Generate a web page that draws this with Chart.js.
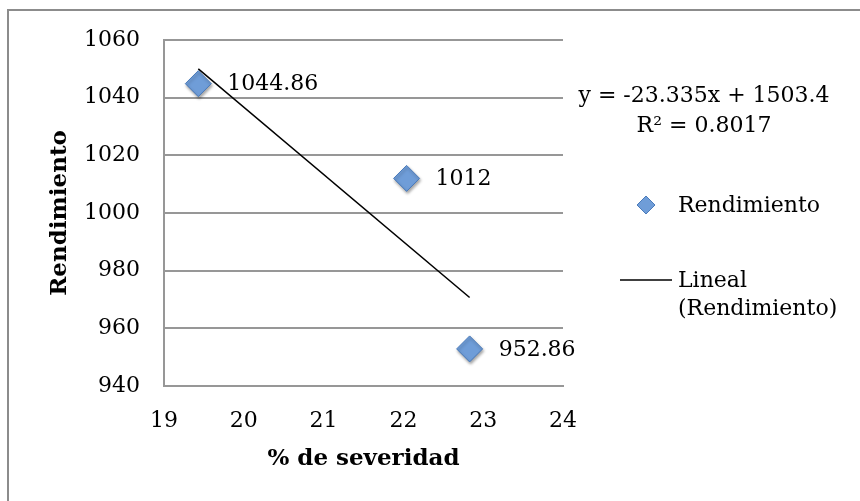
<!DOCTYPE html>
<html>
<head>
<meta charset="utf-8">
<script src="https://cdn.jsdelivr.net/npm/chart.js@4.4.1/dist/chart.umd.min.js"></script>
<style>
  html, body { margin: 0; padding: 0; background: #ffffff; }
  #wrap { position: relative; width: 860px; height: 501px; }
</style>
</head>
<body>
<div id="wrap"><canvas id="c" width="860" height="501"></canvas></div>
<script>
// ---- data ----
const severity = [19.43, 22.04, 22.83];          // % de severidad
const rendimiento = [1044.86, 1012, 952.86];     // Rendimiento
const trendX = [19.43, 22.83];                   // linear trend line ends
const trendY = [1050.0, 970.7];
const xTickRange = [19, 24, 1];
const yTickRange = [940, 1060, 20];
const seriesName = 'Rendimiento';
const trendName = ['Lineal', '(Rendimiento)'];
const equationLines = ['y = -23.335x + 1503.4', 'R² = 0.8017'];
const xTitle = '% de severidad';
const yTitle = 'Rendimiento';

const FONT = 'DejaVu Serif';
const FS = 22;
const GRID = '#979797';

const scatterPts = severity.map((x, i) => ({ x: x, y: rendimiento[i] }));
const trendPts = trendX.map((x, i) => ({ x: x, y: trendY[i] }));

const decorPlugin = {
  id: 'decor',
  beforeDraw(chart) {
    const ctx = chart.ctx;
    ctx.save();
    ctx.fillStyle = '#fff';
    ctx.fillRect(0, 0, chart.width, chart.height);
    ctx.strokeStyle = '#8c8c8c';
    ctx.lineWidth = 2;
    ctx.beginPath();
    ctx.moveTo(8, chart.height + 2);
    ctx.lineTo(8, 10);
    ctx.lineTo(chart.width + 2, 10);
    ctx.stroke();
    ctx.restore();
  },
  beforeDatasetDraw(chart, args) {
    if (args.index === 1) {
      const ctx = chart.ctx;
      ctx.save();
      ctx.shadowColor = 'rgba(0,0,0,0.35)';
      ctx.shadowBlur = 3;
      ctx.shadowOffsetX = 1;
      ctx.shadowOffsetY = 2;
    }
  },
  afterDatasetDraw(chart, args) {
    if (args.index === 1) chart.ctx.restore();
  },
  afterDraw(chart) {
    const ctx = chart.ctx;
    ctx.save();
    // data labels
    const meta = chart.getDatasetMeta(1);
    ctx.fillStyle = '#000';
    ctx.font = FS + 'px "' + FONT + '"';
    ctx.textAlign = 'left';
    ctx.textBaseline = 'middle';
    meta.data.forEach((el, i) => {
      ctx.fillText(String(rendimiento[i]), el.x + 29, el.y + 1);
    });
    // equation
    ctx.textAlign = 'center';
    ctx.fillText(equationLines[0], 704, 96);
    ctx.fillText(equationLines[1], 704, 126);
    // legend: diamond
    ctx.fillStyle = '#6f9dd8';
    ctx.strokeStyle = '#4a7bbb';
    ctx.lineWidth = 1;
    const dx = 646, dy = 205, r = 9;
    ctx.beginPath();
    ctx.moveTo(dx - r, dy);
    ctx.lineTo(dx, dy - r);
    ctx.lineTo(dx + r, dy);
    ctx.lineTo(dx, dy + r);
    ctx.closePath();
    ctx.fill();
    ctx.stroke();
    ctx.fillStyle = '#000';
    ctx.textAlign = 'left';
    ctx.fillText(seriesName, 678, 206);
    // legend: line
    ctx.strokeStyle = '#000';
    ctx.lineWidth = 1.5;
    ctx.beginPath();
    ctx.moveTo(620, 280);
    ctx.lineTo(672, 280);
    ctx.stroke();
    ctx.fillText(trendName[0], 678, 281);
    ctx.fillText(trendName[1], 678, 309);
    ctx.restore();
  }
};

new Chart(document.getElementById('c'), {
  type: 'scatter',
  data: {
    datasets: [
      {
        type: 'line',
        label: trendName.join(' '),
        data: trendPts,
        borderColor: '#000',
        borderWidth: 1.5,
        pointRadius: 0,
        fill: false,
        tension: 0
      },
      {
        label: seriesName,
        data: scatterPts,
        pointStyle: 'rectRot',
        pointRadius: 13,
        pointHoverRadius: 13,
        backgroundColor: '#6f9dd8',
        borderColor: '#4a7bbb',
        borderWidth: 1
      }
    ]
  },
  options: {
    responsive: false,
    animation: false,
    devicePixelRatio: 1,
    layout: { padding: { left: 0, top: 40, right: 297, bottom: 0 } },
    plugins: { legend: { display: false }, tooltip: { enabled: false } },
    scales: {
      x: {
        type: 'linear',
        min: xTickRange[0], max: xTickRange[1],
        afterFit(s) { s.height = 115; },
        ticks: { stepSize: xTickRange[2], color: '#000', padding: 22, font: { family: FONT, size: FS }, callback: v => String(v) },
        grid: { display: false, drawTicks: false },
        border: { display: true, color: GRID, width: 2 },
        title: { display: true, text: xTitle, color: '#000', padding: { top: 0, bottom: 28 }, font: { family: FONT, size: 23, weight: 'bold' } }
      },
      y: {
        type: 'linear',
        min: yTickRange[0], max: yTickRange[1],
        afterFit(s) { s.width = 164; },
        ticks: { stepSize: yTickRange[2], color: '#000', padding: 24, font: { family: FONT, size: FS }, callback: v => String(v) },
        grid: { color: GRID, lineWidth: 2, drawTicks: false },
        border: { display: true, color: GRID, width: 2 },
        title: { display: true, text: yTitle, color: '#000', padding: { top: 46, bottom: 0 }, font: { family: FONT, size: 23, weight: 'bold' } }
      }
    }
  },
  plugins: [decorPlugin]
});
</script>
</body>
</html>
